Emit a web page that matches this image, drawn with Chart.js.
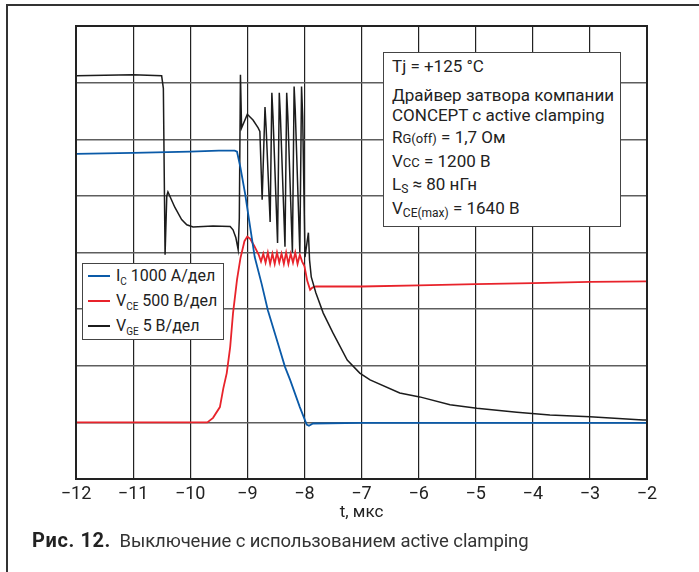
<!DOCTYPE html>
<html>
<head>
<meta charset="utf-8">
<script src="https://cdn.jsdelivr.net/npm/chart.js@4"></script>
<style>
  body { margin: 0; background: #fff; }
  #wrap { position: relative; width: 699px; height: 572px; overflow: hidden; font-family: Roboto, sans-serif; }
  #turnoff { position: absolute; left: 0; top: 0; }
  .note { position: absolute; left: 383px; top: 52px; width: 236px; height: 173px; background: #fff;
          border: 1.5px solid #444; font-size: 17px; color: #222; }
  .note div { position: absolute; left: 8px; white-space: nowrap; line-height: 18px; }
  .note sub { font-size: 12px; vertical-align: -3px; line-height: 0; }
  .legend { position: absolute; left: 82px; top: 263px; width: 140px; height: 75px; background: #fff;
            border: 1.5px solid #444; font-size: 16px; color: #222; }
  .legend .row { position: absolute; left: 5px; white-space: nowrap; line-height: 18px; }
  .legend .swatch { display: inline-block; width: 22px; height: 2px; vertical-align: middle; margin-right: 6px; position: relative; top: -1px; }
  .legend sub { font-size: 10px; vertical-align: -4px; line-height: 0; }
  .caption { position: absolute; left: 32px; top: 528px; font-size: 18.5px; color: #333; white-space: nowrap; letter-spacing: -0.1px; }
  .caption b { color: #222; font-size: 20px; letter-spacing: 0.6px; margin-right: 4px; }
</style>
</head>
<body>
<div id="wrap">
  <canvas id="turnoff" width="699" height="572"></canvas>

  <div class="note">
    <div style="top:4px">Tj = +125 °C</div>
    <div style="top:33px">Драйвер затвора компании</div>
    <div style="top:53px">CONCEPT c active clamping</div>
    <div style="top:75px">R<span style="font-size:13px">G(off)</span> = 1,7 Ом</div>
    <div style="top:99px">V<span style="font-size:13px">CC</span> = 1200 В</div>
    <div style="top:122px">L<sub>S</sub> ≈ 80 нГн</div>
    <div style="top:146px">V<sub>CE(max)</sub> = 1640 В</div>
  </div>

  <div class="legend" id="legend"></div>

  <div class="caption"><b>Рис. 12.</b> Выключение с использованием active clamping</div>
</div>

<script>
// time axis, мкс
const tMin = -12
const tMax = -2

// I_C, A  (1000 A/дел, ноль на 1-й клетке)
const icTime = [-12, -11, -10, -9.5, -9.22, -9.18, -9.12, -9.04, -8.95, -8.87, -8.75, -8.64, -8.45, -8.34, -8.25, -8.08, -7.96, -7.92, -7.85, -7, -6, -5, -4, -3, -2]
const icValue = [4740, 4760, 4780, 4800, 4800, 4780, 4500, 4050, 3450, 2920, 2450, 1980, 1350, 980, 750, 270, -40, -60, -20, -10, -10, -10, -10, -10, -10]

// V_CE, В  (500 В/дел, ноль на 1-й клетке)
const vceTime = [-12, -9.7, -9.6, -9.48, -9.42, -9.36, -9.3, -9.25, -9.18, -9.12, -9.05, -9.0, -8.95, -8.88, -8.8,
  -8.76, -8.72, -8.68, -8.64, -8.6, -8.56, -8.52, -8.48, -8.44, -8.4, -8.36, -8.32, -8.28, -8.24, -8.2, -8.16, -8.12, -8.08, -8.04,
  -8.0, -7.95, -7.9, -7.86, -7.8, -7, -6, -5, -4, -3, -2]
const vceValue = [0, 0, 40, 135, 300, 435, 665, 965, 1260, 1450, 1600, 1640, 1620, 1560, 1480,
  1420, 1490, 1410, 1500, 1400, 1490, 1400, 1500, 1410, 1490, 1400, 1500, 1400, 1490, 1410, 1500, 1400, 1480, 1420,
  1380, 1250, 1170, 1190, 1200, 1200, 1210, 1220, 1230, 1240, 1245]

// V_GE, В  (5 В/дел, ноль на 4-й клетке)
const vgeTime = [-12, -11, -10.5, -10.47, -10.44, -10.41, -10.39, -10.27, -10.15, -10.06, -9.95, -9.6, -9.3, -9.25, -9.2, -9.16, -9.14, -9.12, -9.1, -9.0, -8.9, -8.81, -8.78,
  -8.74, -8.69, -8.67, -8.60, -8.57, -8.55, -8.47, -8.44, -8.42, -8.34, -8.31, -8.29, -8.21, -8.18, -8.16, -8.08, -8.05, -8.03,
  -7.99, -7.93, -7.91, -7.88, -7.8, -7.67, -7.5, -7.25, -7.03, -6.85, -6.33, -5.98, -5.45, -4.98, -4.28, -3.7, -3.0, -2.07, -2]
const vgeValue = [15.6, 15.7, 15.6, 14.5, -0.2, 5.0, 5.35, 4.0, 2.9, 2.45, 2.25, 2.35, 2.3, 2.0, 1.3, 0.25, 3, 15.7, 11, 12.2, 11.7, 11.0, 10.7,
  4.65, 12.85, 11, 2.7, 14.1, 12, 0.85, 14.1, 12, 0.5, 14.1, 12, 0, 14.65, 12.5, 0, 14.65, 12,
  -0.4, 1.75, -0.65, -2.15, -3.55, -5.35, -7.1, -9.5, -10.65, -11.25, -12.4, -12.75, -13.45, -13.75, -14.1, -14.35, -14.5, -14.8, -14.8]

// oscilloscope scaling: [units per division, zero line in divisions]
const icScale = [1000, 1]
const vceScale = [500, 1]
const vgeScale = [5, 4]

function toDiv(times, values, sc) {
  return times.map((t, i) => ({ x: t, y: sc[1] + values[i] / sc[0] }))
}

const blue = '#0a5aa8'
const red = '#e8232b'
const black = '#1c1c1c'

const frame = {
  id: 'frame',
  beforeDraw(chart) {
    const c = chart.ctx
    c.save()
    c.fillStyle = '#fff'
    c.fillRect(0, 0, chart.width, chart.height)
    c.strokeStyle = '#333'
    c.lineWidth = 2
    c.beginPath()
    c.moveTo(7, chart.height)
    c.lineTo(7, 5)
    c.lineTo(chart.width, 5)
    c.stroke()
    c.restore()
  },
  afterDatasetsDraw(chart) {
    const a = chart.chartArea
    const c = chart.ctx
    c.save()
    c.strokeStyle = '#222'
    c.lineWidth = 2
    c.strokeRect(a.left, a.top, a.right - a.left, a.bottom - a.top)
    c.restore()
  }
}

const ctx = document.getElementById('turnoff')

const myChart = new Chart(ctx, {
  type: 'line',
  data: {
    datasets: [{
      label: 'I_C 1000 А/дел',
      data: toDiv(icTime, icValue, icScale),
      borderColor: blue,
      borderWidth: 1.8,
      order: 0
    }, {
      label: 'V_CE 500 В/дел',
      data: toDiv(vceTime, vceValue, vceScale),
      borderColor: red,
      borderWidth: 1.8,
      order: 2
    }, {
      label: 'V_GE 5 В/дел',
      data: toDiv(vgeTime, vgeValue, vgeScale),
      borderColor: black,
      borderWidth: 1.5,
      order: 1
    }]
  },
  options: {
    responsive: false,
    animation: false,
    devicePixelRatio: 1,
    elements: { point: { radius: 0 }, line: { tension: 0 } },
    layout: { padding: { left: 76, right: 52, top: 26, bottom: 48 } },
    plugins: { legend: { display: false }, tooltip: { enabled: false } },
    scales: {
      x: {
        type: 'linear',
        min: tMin,
        max: tMax,
        afterFit: (s) => { s.height = 45 },
        grid: { color: '#222', lineWidth: 1.2, drawTicks: false },
        border: { display: false },
        ticks: {
          stepSize: 1,
          padding: 5,
          color: '#222',
          font: { family: 'Roboto', size: 18 },
          callback: (v) => String(v).replace('-', '\u2212')
        },
        title: {
          display: true,
          text: 't, мкс',
          color: '#222',
          font: { family: 'Roboto', size: 17 },
          padding: { top: 0, bottom: 1 }
        }
      },
      y: {
        min: 0,
        max: 8,
        afterFit: (s) => { s.width = 0 },
        grid: { color: '#5e5e5e', lineWidth: 1.5, drawTicks: false },
        border: { display: false },
        ticks: { stepSize: 1, display: false }
      }
    }
  },
  plugins: [frame]
})

// html legend with subscripts
const legendHtml = [
  ['I', 'C', ' 1000 А/дел', blue],
  ['V', 'CE', ' 500 В/дел', red],
  ['V', 'GE', ' 5 В/дел', black]
]
document.getElementById('legend').innerHTML = legendHtml.map((r, i) =>
  '<div class="row" style="top:' + (3 + i * 25) + 'px"><span class="swatch" style="background:' + r[3] + '"></span>' +
  r[0] + '<sub>' + r[1] + '</sub>' + r[2] + '</div>').join('')
</script>
</body>
</html>
